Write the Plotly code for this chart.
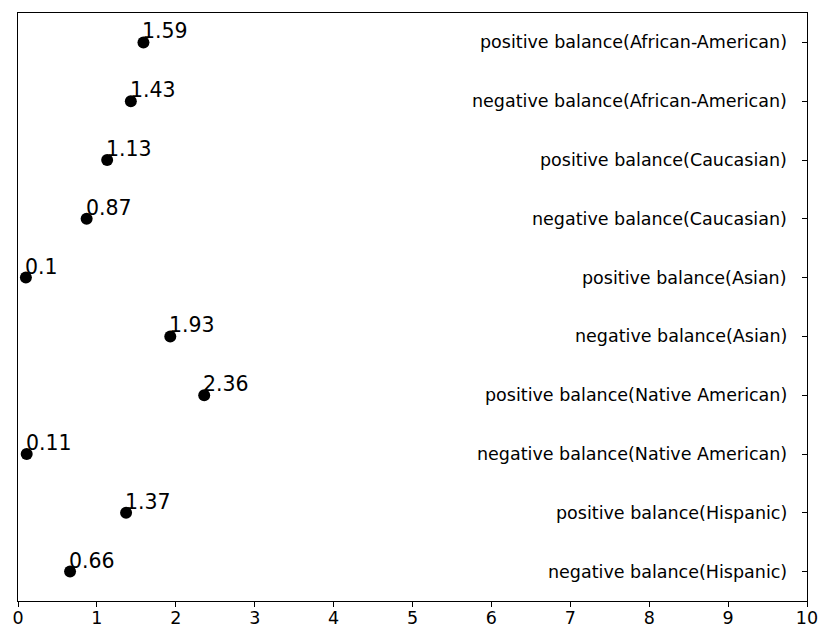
import plotly.graph_objects as go

categories = [
    "negative balance(Hispanic)",
    "positive balance(Hispanic)",
    "negative balance(Native American)",
    "positive balance(Native American)",
    "negative balance(Asian)",
    "positive balance(Asian)",
    "negative balance(Caucasian)",
    "positive balance(Caucasian)",
    "negative balance(African-American)",
    "positive balance(African-American)",
]
values = [0.66, 1.37, 0.11, 2.36, 1.93, 0.1, 0.87, 1.13, 1.43, 1.59]
x_ticks = list(range(0, 11))

FONT = "DejaVu Sans"
TICK_SIZE = 17.5
ANN_SIZE = 20.5

fig = go.Figure()
fig.add_trace(go.Scatter(
    x=values, y=categories, mode="markers",
    marker=dict(color="black", size=12),
    hoverinfo="skip", showlegend=False,
))

for v, c in zip(values, categories):
    fig.add_annotation(
        x=v, y=c, text=str(v), showarrow=False,
        xanchor="left", yanchor="bottom", xshift=-2, yshift=-2,
        borderpad=0,
        font=dict(family=FONT, size=ANN_SIZE, color="black"),
    )

# category labels drawn inside the plot, next to the right-hand ticks
for c in categories:
    fig.add_annotation(
        x=1, xref="paper", y=c, yref="y", text=c, showarrow=False,
        xanchor="right", yanchor="middle", xshift=-19,
        borderpad=0,
        font=dict(family=FONT, size=TICK_SIZE, color="black"),
    )

# page body has an 8px margin, so the figure is sized/margined to compensate
fig.update_layout(
    width=823, height=629,
    margin=dict(l=10, r=24, t=5, b=36, autoexpand=False),
    plot_bgcolor="white", paper_bgcolor="white",
    font=dict(family=FONT, size=TICK_SIZE, color="black"),
)
fig.update_xaxes(
    range=[0, 10], tickvals=x_ticks, showgrid=False, zeroline=False,
    showline=True, linecolor="black", linewidth=1.2, mirror=True,
    ticks="outside", ticklen=5, tickwidth=1.2, tickcolor="black",
    ticklabelstandoff=-4,
    tickfont=dict(family=FONT, size=TICK_SIZE, color="black"),
    automargin=False,
)
fig.update_yaxes(
    type="category", categoryorder="array", categoryarray=categories,
    range=[-0.5, 9.5], side="right", showticklabels=False,
    showgrid=False, zeroline=False,
    showline=True, linecolor="black", linewidth=1.2, mirror=True,
    ticks="inside", ticklen=5, tickwidth=1.2, tickcolor="black",
    automargin=False,
)

fig.write_html("out.html")
